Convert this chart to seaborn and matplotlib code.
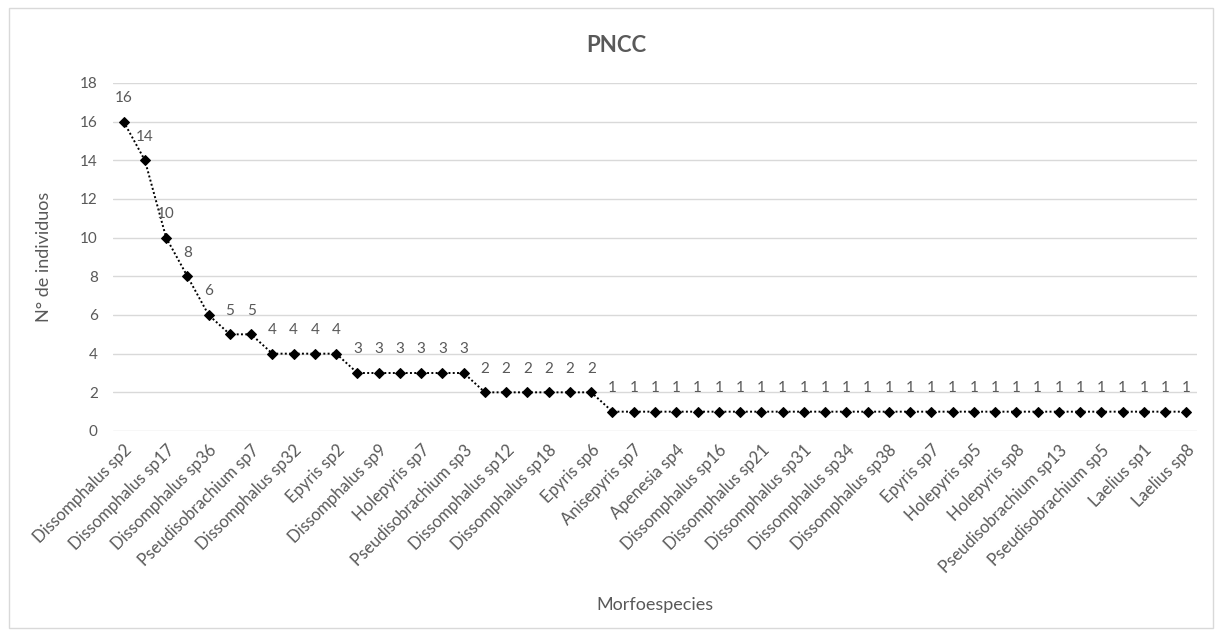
import matplotlib
matplotlib.use("Agg")
import matplotlib.pyplot as plt
from matplotlib.patches import Rectangle
import seaborn as sns
import pandas as pd

# Individuals per morphospecies, ranked from most to least abundant
counts = [16, 14, 10, 8, 6, 5, 5, 4, 4, 4, 4,
          3, 3, 3, 3, 3, 3,
          2, 2, 2, 2, 2, 2,
          1, 1, 1, 1, 1, 1, 1, 1, 1, 1, 1, 1, 1, 1,
          1, 1, 1, 1, 1, 1, 1, 1, 1, 1, 1, 1, 1, 1]

# Category labels shown on the axis (every second rank)
shown_labels = ["Dissomphalus sp2", "Dissomphalus sp17", "Dissomphalus sp36",
                "Pseudisobrachium sp7", "Dissomphalus sp32", "Epyris sp2",
                "Dissomphalus sp9", "Holepyris sp7", "Pseudisobrachium sp3",
                "Dissomphalus sp12", "Dissomphalus sp18", "Epyris sp6",
                "Anisepyris sp7", "Apenesia sp4", "Dissomphalus sp16",
                "Dissomphalus sp21", "Dissomphalus sp31", "Dissomphalus sp34",
                "Dissomphalus sp38", "Epyris sp7", "Holepyris sp5",
                "Holepyris sp8", "Pseudisobrachium sp13", "Pseudisobrachium sp5",
                "Laelius sp1", "Laelius sp8"]

y_ticks = [0, 2, 4, 6, 8, 10, 12, 14, 16, 18]

df = pd.DataFrame({"rank": range(len(counts)), "n": counts})

sns.set_theme(style="white")
plt.rcParams["font.family"] = ["Lato", "DejaVu Sans"]

text_gray = "#595959"
grid_gray = "#d9d9d9"

fig = plt.figure(figsize=(12.22, 6.37), dpi=100)
fig.patches.append(Rectangle((9 / 1222, 1 - 628 / 637), (1213 - 9) / 1222, (628 - 8) / 637,
                             transform=fig.transFigure, fill=False,
                             edgecolor="#d9d9d9", linewidth=1.0))

ax = fig.add_axes([113 / 1222, 1 - 431 / 637, (1197 - 113) / 1222, (431 - 83) / 637])

sns.lineplot(data=df, x="rank", y="n", ax=ax, color="black",
             linestyle=(0, (1, 1.2)), linewidth=1.4,
             marker="D", markersize=5.5, markeredgecolor="black",
             markerfacecolor="black")

for xi, yi in zip(df["rank"], df["n"]):
    ax.annotate(str(yi), (xi, yi), xytext=(0, 17), textcoords="offset points",
                ha="center", va="center", fontsize=11, color=text_gray)

ax.set_xlim(-0.5, len(counts) - 0.5)
ax.set_ylim(0, 18)
ax.set_yticks(y_ticks)
ax.set_yticklabels([str(t) for t in y_ticks])
ax.set_xticks(range(0, len(counts), 2))
ax.set_xticklabels(shown_labels, rotation=45, ha="right", rotation_mode="anchor")

ax.yaxis.grid(True, color=grid_gray, linewidth=1.0)
ax.set_axisbelow(True)
for s in ax.spines.values():
    s.set_visible(False)
ax.tick_params(axis="y", length=0, colors=text_gray, labelsize=11, pad=11)
ax.tick_params(axis="x", length=0, colors=text_gray, labelsize=12, pad=8)

ax.set_xlabel("Morfoespecies", fontsize=13, color=text_gray)
ax.set_ylabel("N° de individuos", fontsize=13, color=text_gray)
ax.xaxis.set_label_coords(0.5, (431 - 605) / (431 - 83))
ax.yaxis.set_label_coords((44 - 113) / (1197 - 113), 0.5)
ax.xaxis.label.set_va("center")
ax.yaxis.label.set_va("center")

fig.text(616 / 1222, 1 - 46 / 637, "PNCC", ha="center", va="center",
         fontsize=16, fontweight="bold", color=text_gray)

fig.savefig("out.png", dpi=100)
